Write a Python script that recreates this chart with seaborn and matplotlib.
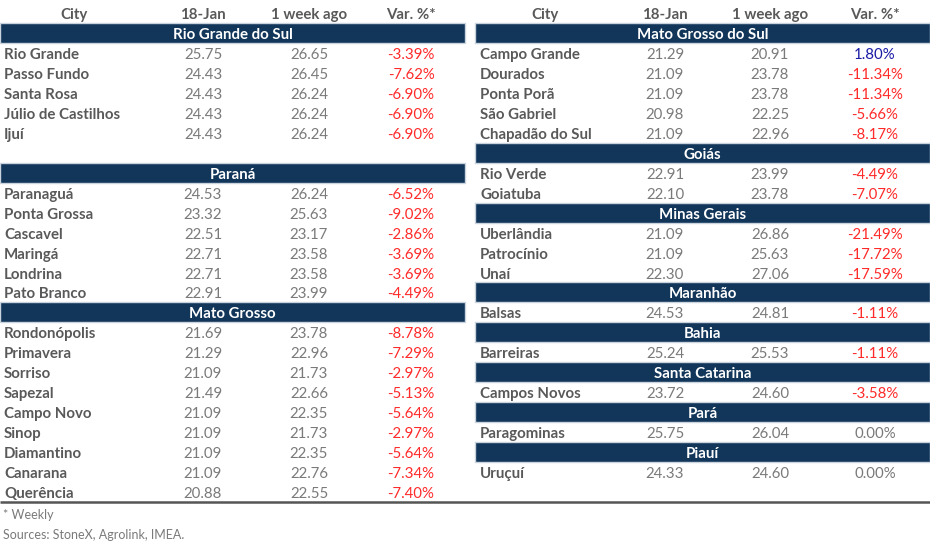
import matplotlib
matplotlib.use("Agg")
import matplotlib.pyplot as plt
import seaborn as sns

# column headers
col_labels = ["City", "18-Jan", "1 week ago", "Var. %*"]

# left table
left_states = ["Rio Grande do Sul", "Paraná", "Mato Grosso"]
left_city = ["Rio Grande", "Passo Fundo", "Santa Rosa", "Júlio de Castilhos", "Ijuí",
             "Paranaguá", "Ponta Grossa", "Cascavel", "Maringá", "Londrina", "Pato Branco",
             "Rondonópolis", "Primavera", "Sorriso", "Sapezal", "Campo Novo", "Sinop",
             "Diamantino", "Canarana", "Querência"]
left_state = ["Rio Grande do Sul"] * 5 + ["Paraná"] * 6 + ["Mato Grosso"] * 9
left_jan = [25.75, 24.43, 24.43, 24.43, 24.43,
            24.53, 23.32, 22.51, 22.71, 22.71, 22.91,
            21.69, 21.29, 21.09, 21.49, 21.09, 21.09, 21.09, 21.09, 20.88]
left_week = [26.65, 26.45, 26.24, 26.24, 26.24,
             26.24, 25.63, 23.17, 23.58, 23.58, 23.99,
             23.78, 22.96, 21.73, 22.66, 22.35, 21.73, 22.35, 22.76, 22.55]
left_var = [-3.39, -7.62, -6.90, -6.90, -6.90,
            -6.52, -9.02, -2.86, -3.69, -3.69, -4.49,
            -8.78, -7.29, -2.97, -5.13, -5.64, -2.97, -5.64, -7.34, -7.40]

# right table
right_states = ["Mato Grosso do Sul", "Goiás", "Minas Gerais", "Maranhão", "Bahia",
                "Santa Catarina", "Pará", "Piauí"]
right_city = ["Campo Grande", "Dourados", "Ponta Porã", "São Gabriel", "Chapadão do Sul",
              "Rio Verde", "Goiatuba", "Uberlândia", "Patrocínio", "Unaí", "Balsas",
              "Barreiras", "Campos Novos", "Paragominas", "Uruçuí"]
right_state = (["Mato Grosso do Sul"] * 5 + ["Goiás"] * 2 + ["Minas Gerais"] * 3
               + ["Maranhão", "Bahia", "Santa Catarina", "Pará", "Piauí"])
right_jan = [21.29, 21.09, 21.09, 20.98, 21.09, 22.91, 22.10, 21.09, 21.09, 22.30,
             24.53, 25.24, 23.72, 25.75, 24.33]
right_week = [20.91, 23.78, 23.78, 22.25, 22.96, 23.99, 23.78, 26.86, 25.63, 27.06,
              24.81, 25.53, 24.60, 26.04, 24.60]
right_var = [1.80, -11.34, -11.34, -5.66, -8.17, -4.49, -7.07, -21.49, -17.72, -17.59,
             -1.11, -1.11, -3.58, 0.00, 0.00]

footnotes = ["* Weekly", "Sources: StoneX, Agrolink, IMEA."]

NAVY = "#12365a"
CITY_C = "#595959"
NUM_C = "#7a7a7a"
DY = 0.1  # text sits a bit lower than the row centre

sns.set_theme(style="white")
plt.rcParams["font.family"] = ["Lato", "DejaVu Sans"]

fig = plt.figure(figsize=(9.3, 5.44), dpi=100)
ax = fig.add_axes([0, 0, 1, 1])
ax.set_xlim(0, 930)
ax.set_ylim(26.6, -0.651)
ax.axis("off")


def var_color(v):
    if v < 0:
        return "#ff2a2a"
    if v > 0:
        return "#1a1aa6"
    return NUM_C


def draw_table(x0, x1, xcity, xhead, xcols, city, state, jan, week, var, gaps):
    fs = 10.8
    ax.text(xhead, DY, col_labels[0], ha="center", va="center", fontsize=fs,
            fontweight="bold", color=CITY_C)
    for xc, lab in zip(xcols, col_labels[1:]):
        ax.text(xc, DY, lab, ha="center", va="center", fontsize=fs,
                fontweight="bold", color=CITY_C)
    row = 1
    prev = None
    for c, s, j, w, v in zip(city, state, jan, week, var):
        if s != prev:
            row += gaps.get(s, 0)
            ax.barh(row, x1 - x0, left=x0, height=1.0, color=NAVY,
                    edgecolor="#c9d3de", linewidth=1.0)
            ax.text((x0 + x1) / 2, row + DY, s, ha="center", va="center",
                    fontsize=fs, fontweight="bold", color="white")
            row += 1
            prev = s
        ax.text(xcity, row + DY, c, ha="left", va="center", fontsize=fs,
                fontweight="bold", color=CITY_C)
        ax.text(xcols[0], row + DY, f"{j:.2f}", ha="center", va="center",
                fontsize=fs, color=NUM_C)
        ax.text(xcols[1], row + DY, f"{w:.2f}", ha="center", va="center",
                fontsize=fs, color=NUM_C)
        ax.text(xcols[2], row + DY, f"{v:.2f}%", ha="center", va="center",
                fontsize=fs, color=var_color(v))
        row += 1


draw_table(0, 465, 4, 74, [203, 309, 411], left_city, left_state,
           left_jan, left_week, left_var, {"Paraná": 1})
draw_table(475, 930, 480, 545, [665, 770, 875], right_city, right_state,
           right_jan, right_week, right_var, {})

ax.plot([0, 930], [24.5, 24.5], color="#555555", lw=1.8, solid_capstyle="butt")
for i, t in enumerate(footnotes):
    ax.text(3, 25.05 + i + DY, t, ha="left", va="center", fontsize=9, color=NUM_C)

fig.savefig("out.png", dpi=100)
